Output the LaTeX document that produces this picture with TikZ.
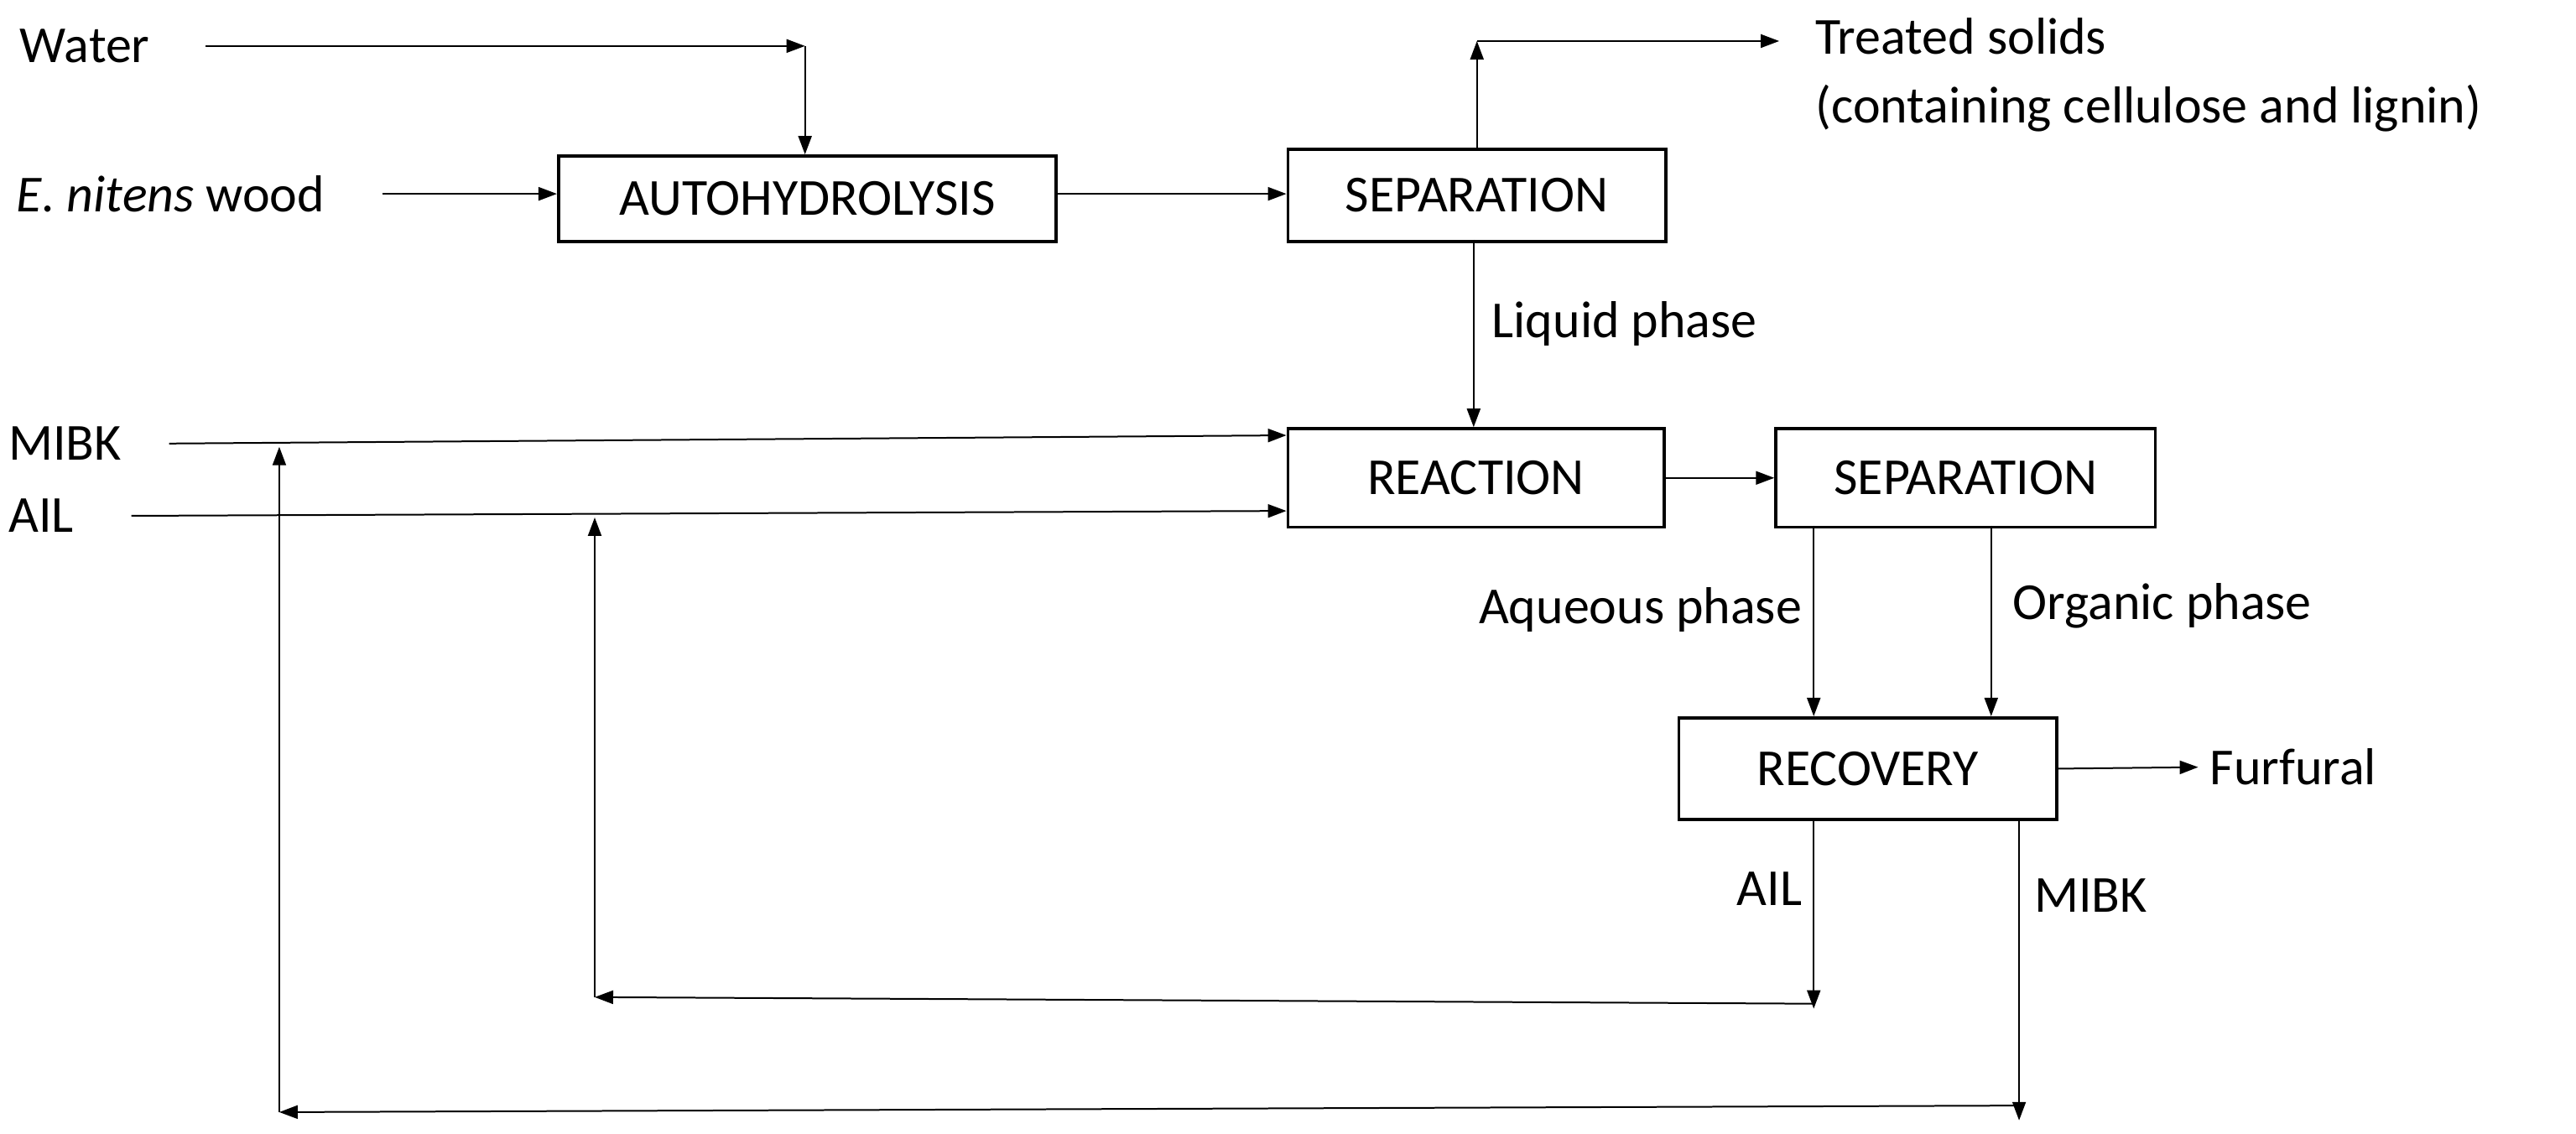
\documentclass[tikz,border=0pt]{standalone}
\usepackage{fontspec}
\setmainfont{Carlito}
\usetikzlibrary{arrows.meta}
\begin{document}
\begin{tikzpicture}[x=0.98pt,y=-0.98pt,
  box/.style={draw,line width=1.8pt,inner sep=0pt,anchor=north west},
  lab/.style={font=\fontsize{31}{36}\selectfont,inner sep=0pt},
  arr/.style={line width=1pt,-{Triangle[length=11pt,width=8pt]}},
  ln/.style={line width=1pt}]
\useasboundingbox (0,0) rectangle (1568,690);
\node[box,minimum width=303*0.98pt,minimum height=52*0.98pt] (auto) at (339,94) {};
\node[lab] at (auto.center) {AUTOHYDROLYSIS};
\node[box,minimum width=230*0.98pt,minimum height=56*0.98pt] (sep1) at (783,90) {};
\node[lab] at (sep1.center) {SEPARATION};
\node[box,minimum width=229*0.98pt,minimum height=60*0.98pt] (reac) at (783,260) {};
\node[lab] at (reac.center) {REACTION};
\node[box,minimum width=231*0.98pt,minimum height=60*0.98pt] (sep2) at (1080,260) {};
\node[lab] at (sep2.center) {SEPARATION};
\node[box,minimum width=230*0.98pt,minimum height=62*0.98pt] (rec) at (1021,436) {};
\node[lab] at (rec.center) {RECOVERY};

\node[lab,anchor=west] (water) at (12,28) {Water};
\node[lab,anchor=west] (wood) at (10,118) {\textit{E. nitens} wood};
\node[lab,anchor=west] (ts) at (1105,22) {Treated solids};
\node[lab,anchor=west] (ts2) at (1105,66) {(containing cellulose and lignin)};
\node[lab,anchor=west] (liq) at (908,197) {Liquid phase};
\node[lab,anchor=west] (mibk) at (5,270) {MIBK};
\node[lab,anchor=west] (ail) at (5,314) {AIL};
\node[lab,anchor=east] (aq) at (1097,371) {Aqueous phase};
\node[lab,anchor=west] (org) at (1225,369) {Organic phase};
\node[lab,anchor=west] (fur) at (1345,467) {Furfural};
\node[lab,anchor=east] (ail2) at (1097,541) {AIL};
\node[lab,anchor=west] (mibk2) at (1238,545) {MIBK};

\coordinate (w1) at (125,28); \coordinate (w2) at (490,28);
\draw[arr] (w1) -- (w2);
\draw[arr] (w2) -- (490,94);
\coordinate (e1) at (233,118);
\draw[arr] (e1) -- (e1 -| auto.west);
\draw[arr] (auto.east |- 0,118) -- (sep1.west |- 0,118);
\coordinate (t1) at (899,25);
\draw[arr] (899,90) -- (t1);
\draw[arr] (t1) -- (1083,25);
\draw[arr] (897,146) -- (897,260);
\draw[arr] (103,270) -- (783,265);
\draw[arr] (80,314) -- (783,311);
\draw[arr] (reac.east) -- (sep2.west);
\draw[arr] (1104,320) -- (1104,436);
\draw[arr] (1212,320) -- (1212,436);
\draw[arr] (rec.east) -- (1338,467);
\draw[arr] (1104,498) -- (1104,614);
\coordinate (a1) at (1104,611); \coordinate (a2) at (362,607);
\draw[arr] (a1) -- (a2);
\draw[arr] (a2) -- (362,315);
\draw[arr] (1229,498) -- (1229,682);
\coordinate (m1) at (1229,673); \coordinate (m2) at (170,677);
\draw[arr] (m1) -- (m2);
\draw[arr] (m2) -- (170,272);
\end{tikzpicture}
\end{document}
